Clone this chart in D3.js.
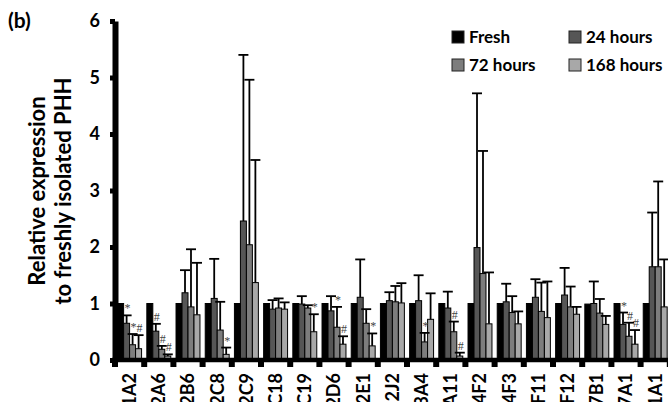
<!DOCTYPE html>
<html>
<head>
<meta charset="utf-8">
<script src="https://cdn.jsdelivr.net/npm/d3@7"></script>
<style>
  body { margin: 0; background: #fff; }
  svg { display: block; font-family: Lato, "Open Sans", sans-serif; }
</style>
</head>
<body>
<div id="chart"></div>
<script>
// data (relative expression vs freshly isolated PHH)
const genes = ["CYP1A2", "CYP2A6", "CYP2B6", "CYP2C8", "CYP2C9", "CYP2C18", "CYP2C19", "CYP2D6", "CYP2E1", "CYP2J2",
    "CYP3A4", "CYP4A11", "CYP4F2", "CYP4F3", "CYP4F11", "CYP4F12", "CYP7B1", "CYP7A1", "CYP51A1"]
const series = ["Fresh", "24 hours", "72 hours", "168 hours"]

const fresh = [1, 1, 1, 1, 1, 1, 1, 1, 1, 1, 1, 1, 1, 1, 1, 1, 0.99, 1, 1]
const h24 = [0.65, 0.51, 1.19, 1.09, 2.46, 0.90, 0.99, 0.87, 1.11, 1.05, 1.05, 0.92, 1.99, 1.03, 1.11, 1.15, 1.00, 0.63, 1.65]
const h72 = [0.27, 0.19, 0.94, 0.53, 2.04, 0.92, 0.92, 0.58, 0.65, 1.03, 0.32, 0.50, 1.53, 0.84, 0.86, 0.94, 0.83, 0.42, 1.65]
const h168 = [0.20, 0.07, 0.80, 0.10, 1.37, 0.90, 0.50, 0.28, 0.25, 1.01, 0.72, 0.07, 0.64, 0.64, 0.75, 0.81, 0.63, 0.28, 0.94]

// upper error (SD)
const sd24 = [0.14, 0.13, 0.40, 0.70, 2.94, 0.16, 0.14, 0.26, 0.67, 0.15, 0.45, 0.29, 2.73, 0.32, 0.32, 0.48, 0.39, 0.21, 0.96]
const sd72 = [0.19, 0.06, 1.02, 0.50, 2.92, 0.17, 0.05, 0.36, 0.25, 0.28, 0.16, 0.18, 2.17, 0.29, 0.51, 0.36, 0.25, 0.24, 1.51]
const sd168 = [0.24, 0.03, 0.92, 0.12, 2.17, 0.12, 0.31, 0.14, 0.22, 0.35, 0.46, 0.06, 0.91, 0.22, 0.64, 0.13, 0.15, 0.25, 0.84]

// significance marks: [gene, series, symbol]
const marks = [
    ["CYP1A2", "24 hours", "*"], ["CYP1A2", "72 hours", "*"], ["CYP1A2", "168 hours", "#"],
    ["CYP2A6", "24 hours", "#"], ["CYP2A6", "72 hours", "#"], ["CYP2A6", "168 hours", "#"],
    ["CYP2C8", "168 hours", "*"], ["CYP2C19", "168 hours", "*"],
    ["CYP2D6", "72 hours", "*"], ["CYP2D6", "168 hours", "#"],
    ["CYP2E1", "168 hours", "*"], ["CYP3A4", "72 hours", "*"],
    ["CYP4A11", "72 hours", "#"], ["CYP4A11", "168 hours", "#"],
    ["CYP7A1", "24 hours", "*"], ["CYP7A1", "72 hours", "#"], ["CYP7A1", "168 hours", "#"]
]

const colors = { "Fresh": "#000000", "24 hours": "#565656", "72 hours": "#7d7d7d", "168 hours": "#a8a8a8" }

// ----------------------------------------------------------

const width = 668, height = 402
const x0 = 115, y0 = 360

const values = { "Fresh": fresh, "24 hours": h24, "72 hours": h72, "168 hours": h168 }
const errors = { "Fresh": null, "24 hours": sd24, "72 hours": sd72, "168 hours": sd168 }

const data = []
genes.forEach((g, i) => {
    series.forEach(s => {
        data.push({ gene: g, series: s, value: values[s][i], err: errors[s] ? errors[s][i] : 0 })
    })
})

const svg = d3.select("#chart")
    .append("svg")
    .attr("width", width)
    .attr("height", height)

const x = d3.scaleBand().domain(genes).range([x0, x0 + genes.length * 29.2])
    .paddingInner(0.18).paddingOuter(0.09)
const xs = d3.scaleBand().domain(series).range([0, x.bandwidth()])
const y = d3.scaleLinear().domain([0, 6]).range([y0, 21])

const elementGroup = svg.append("g").attr("id", "elementGroup")
const axisGroup = svg.append("g").attr("id", "axisGroup")

// bars
elementGroup.selectAll("rect.bar").data(data)
    .enter()
    .append("rect")
    .attr("class", "bar")
    .attr("x", d => x(d.gene) + xs(d.series))
    .attr("y", d => y(d.value))
    .attr("width", xs.bandwidth())
    .attr("height", d => y0 - y(d.value))
    .attr("fill", d => colors[d.series])
    .attr("stroke", "#000")
    .attr("stroke-width", 1)

// error bars (upper only)
const withErr = data.filter(d => d.err > 0)
const cx = d => x(d.gene) + xs(d.series) + xs.bandwidth() / 2

elementGroup.selectAll("line.err").data(withErr)
    .enter()
    .append("line")
    .attr("class", "err")
    .attr("x1", cx).attr("x2", cx)
    .attr("y1", d => y(d.value))
    .attr("y2", d => y(d.value + d.err))
    .attr("stroke", "#000")
    .attr("stroke-width", 1.8)

elementGroup.selectAll("line.cap").data(withErr)
    .enter()
    .append("line")
    .attr("class", "cap")
    .attr("x1", d => cx(d) - 5).attr("x2", d => cx(d) + 5)
    .attr("y1", d => y(d.value + d.err))
    .attr("y2", d => y(d.value + d.err))
    .attr("stroke", "#000")
    .attr("stroke-width", 1.8)

// significance symbols
elementGroup.selectAll("text.sig").data(marks)
    .enter()
    .append("text")
    .attr("class", "sig")
    .attr("x", m => x(m[0]) + xs(m[1]) + xs.bandwidth() / 2 + 1)
    .attr("y", m => {
        const d = data.find(e => e.gene == m[0] && e.series == m[1])
        return y(d.value + d.err) - 3
    })
    .attr("text-anchor", "middle")
    .style("font-family", "'Liberation Serif', serif")
    .style("font-size", "12px")
    .style("fill", "#444")
    .text(m => m[2])

// Y axis
const yAxis = d3.axisLeft(y).ticks(6).tickSize(5).tickSizeOuter(0).tickPadding(10)
axisGroup.append("g")
    .attr("transform", "translate(" + x0 + ",0)")
    .call(yAxis)
    .call(g => g.select(".domain").attr("stroke-width", 6))
    .call(g => g.selectAll(".tick line").attr("stroke-width", 5))
    .call(g => g.selectAll(".tick text").style("font-size", "18px").style("font-weight", "bold")
        .style("font-family", "Lato, sans-serif").attr("fill", "#000"))

// X axis
const xAxis = d3.axisBottom(x).tickSize(0).tickSizeOuter(0).tickPadding(0)
const xAxisGroup = axisGroup.append("g")
    .attr("transform", "translate(0," + y0 + ")")
    .call(xAxis)
xAxisGroup.select(".domain").remove()
xAxisGroup.append("line")
    .attr("x1", x0 - 3).attr("x2", width)
    .attr("stroke", "#000").attr("stroke-width", 4.5)
xAxisGroup.selectAll(".tick text")
    .attr("transform", "rotate(-90)")
    .attr("text-anchor", "end")
    .attr("x", -13).attr("y", 0).attr("dy", "0.36em")
    .style("font-size", "18px").style("font-weight", "bold")
    .style("font-family", "Lato, sans-serif").attr("fill", "#000")

// tick marks between groups
const step = x.step()
const bounds = d3.range(genes.length + 1).map(i => x(genes[0]) - x.paddingOuter() * step + i * step)
xAxisGroup.selectAll("rect.sep").data(bounds)
    .enter()
    .append("rect")
    .attr("class", "sep")
    .attr("x", d => d - 3)
    .attr("y", 0)
    .attr("width", 6)
    .attr("height", 7)
    .attr("fill", "#000")

// Y axis label
const yLabel = ["Relative expression", "to freshly isolated PHH"]
svg.selectAll("text.ylab").data(yLabel)
    .enter()
    .append("text")
    .attr("class", "ylab")
    .attr("transform", (d, i) => "translate(" + (45 + i * 26) + ",191) rotate(-90)")
    .attr("text-anchor", "middle")
    .style("font-size", "22px")
    .style("font-weight", "bold")
    .text(d => d)

// panel letter
svg.append("text")
    .attr("x", 8).attr("y", 28)
    .style("font-size", "21px")
    .style("font-weight", "bold")
    .text("(b)")

// legend
const legend = svg.append("g").attr("id", "legend")
const legendPos = [[452, 31], [569, 31], [452, 59], [569, 59]]
series.forEach((s, i) => {
    const g = legend.append("g").attr("transform", "translate(" + legendPos[i][0] + "," + legendPos[i][1] + ")")
    g.append("rect")
        .attr("width", 12).attr("height", 12)
        .attr("fill", colors[s])
        .attr("stroke", "#222").attr("stroke-width", 1)
    g.append("text")
        .attr("x", 17).attr("y", 12)
        .style("font-size", "17px")
        .style("font-weight", "bold")
        .text(s)
})
</script>
</body>
</html>
